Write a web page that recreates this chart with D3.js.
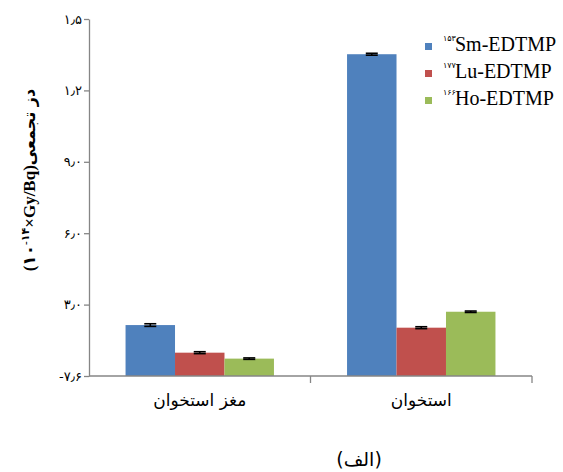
<!DOCTYPE html>
<html>
<head>
<meta charset="utf-8">
<script src="https://cdn.jsdelivr.net/npm/d3@7"></script>
<style>
  html, body { margin: 0; padding: 0; background: #fff; }
  svg { display: block; }
</style>
</head>
<body>
<svg id="chart" width="563" height="472"></svg>
<script>
// Cumulative dose per tissue (units of 1e-14 Gy/Bq)
const categories = ["مغز استخوان", "استخوان"];
const seriesNames = ["Sm-EDTMP", "Lu-EDTMP", "Ho-EDTMP"];
const isotopeMass = ["۱۵۳", "۱۷۷", "۱۶۶"];
const smValues = [2.14, 13.52];
const luValues = [0.98, 2.03];
const hoValues = [0.73, 2.70];
const smErrors = [0.055, 0.04];
const luErrors = [0.04, 0.04];
const hoErrors = [0.03, 0.03];
const tickValues = [0, 3, 6, 9, 12, 15];
const tickLabels = ["-۷٫۶", "۳٫۰", "۶٫۰", "۹٫۰", "۱٫۲", "۱٫۵"];
const colors = ["#4F81BD", "#C0504D", "#9BBB59"];

const seriesValues = [smValues, luValues, hoValues];
const seriesErrors = [smErrors, luErrors, hoErrors];

const svg = d3.select("#chart");
const plotLeft = 89, plotRight = 532, plotTop = 19, plotBottom = 376;
const axisColor = "#868686";

const y = d3.scaleLinear().domain([0, 15]).range([plotBottom, plotTop]);
const x0 = d3.scaleBand().domain(categories).range([plotLeft, plotRight])
  .paddingInner(0.33).paddingOuter(0.165);
const x1 = d3.scaleBand().domain(seriesNames).range([0, x0.bandwidth()]);

const rowsFor = ci => seriesNames.map((s, si) => ({ s, si, v: seriesValues[si][ci], e: seriesErrors[si][ci] }));

// bars
const groups = svg.append("g").selectAll("g")
  .data(categories)
  .join("g")
  .attr("transform", d => `translate(${x0(d)},0)`);

groups.selectAll("rect")
  .data((c, ci) => rowsFor(ci))
  .join("rect")
  .attr("x", d => x1(d.s))
  .attr("y", d => y(d.v))
  .attr("width", x1.bandwidth())
  .attr("height", d => y(0) - y(d.v))
  .attr("fill", d => colors[d.si]);

// error bars
const capW = 12;
const eb = groups.selectAll("g.err")
  .data((c, ci) => rowsFor(ci))
  .join("g")
  .attr("class", "err")
  .attr("stroke", "#000")
  .attr("stroke-width", 1.6);
eb.append("line")
  .attr("x1", d => x1(d.s) + x1.bandwidth() / 2)
  .attr("x2", d => x1(d.s) + x1.bandwidth() / 2)
  .attr("y1", d => y(d.v + d.e))
  .attr("y2", d => y(d.v - d.e));
[1, -1].forEach(sign => {
  eb.append("line")
    .attr("x1", d => x1(d.s) + x1.bandwidth() / 2 - capW / 2)
    .attr("x2", d => x1(d.s) + x1.bandwidth() / 2 + capW / 2)
    .attr("y1", d => y(d.v + sign * d.e))
    .attr("y2", d => y(d.v + sign * d.e));
});

// y axis
const yAxis = svg.append("g")
  .attr("transform", `translate(${plotLeft},0)`)
  .call(d3.axisLeft(y).tickValues(tickValues)
    .tickFormat((d, i) => tickLabels[i]).tickSize(5).tickSizeOuter(0));
yAxis.select(".domain").attr("stroke", axisColor).attr("stroke-width", 1.3);
yAxis.selectAll(".tick line").attr("stroke", axisColor).attr("stroke-width", 1.3);
yAxis.selectAll(".tick text")
  .attr("fill", "#000")
  .attr("x", -7)
  .style("font-family", "'DejaVu Sans', sans-serif")
  .style("font-size", "13px")
  .attr("direction", "ltr");

// x axis baseline with ticks at category boundaries
const step = x0.step();
const xAxisG = svg.append("g").attr("stroke", axisColor).attr("stroke-width", 1.3);
xAxisG.append("line").attr("x1", plotLeft).attr("x2", plotRight).attr("y1", plotBottom).attr("y2", plotBottom);
xAxisG.selectAll("line.tk")
  .data(categories.map((c, i) => plotLeft + step * (i + 1)))
  .join("line")
  .attr("class", "tk")
  .attr("x1", d => d).attr("x2", d => d)
  .attr("y1", plotBottom).attr("y2", plotBottom + 7);

// category labels
svg.append("g").selectAll("text")
  .data(categories)
  .join("text")
  .attr("x", d => x0(d) + x0.bandwidth() / 2)
  .attr("y", 406)
  .attr("text-anchor", "middle")
  .style("font-family", "'DejaVu Sans', sans-serif")
  .style("font-size", "17px")
  .text(d => d);

// y axis title
const yt = svg.append("text")
  .attr("transform", "translate(35,180) rotate(-90)")
  .attr("text-anchor", "middle")
  .attr("direction", "ltr")
  .style("font-family", "'Liberation Serif', 'DejaVu Sans', serif")
  .style("font-weight", "bold")
  .style("font-size", "17px");
yt.append("tspan").text("(۱۰");
yt.append("tspan").attr("dy", -6).style("font-size", "11px").text("-۱۴");
yt.append("tspan").attr("dy", 6).text("×Gy/Bq)");
yt.append("tspan").style("font-family", "'DejaVu Sans', sans-serif").style("font-size", "16px").text("دز تجمعی");

// legend
const legend = svg.append("g").selectAll("g")
  .data(seriesNames)
  .join("g")
  .attr("transform", (d, i) => `translate(425,${43 + i * 27})`);
legend.append("rect")
  .attr("width", 7).attr("height", 7)
  .attr("fill", (d, i) => colors[i]);
legend.append("text")
  .attr("x", 18).attr("y", -2)
  .style("font-family", "'DejaVu Sans', sans-serif")
  .style("font-size", "8px")
  .attr("direction", "ltr")
  .text((d, i) => isotopeMass[i]);
legend.append("text")
  .attr("x", 30).attr("y", 8)
  .style("font-family", "'Liberation Serif', serif")
  .style("font-size", "20px")
  .text(d => d);

// panel caption
svg.append("text")
  .attr("x", 359).attr("y", 466)
  .attr("text-anchor", "middle")
  .style("font-family", "'DejaVu Sans', sans-serif")
  .style("font-size", "19px")
  .text("(الف)");
</script>
</body>
</html>
